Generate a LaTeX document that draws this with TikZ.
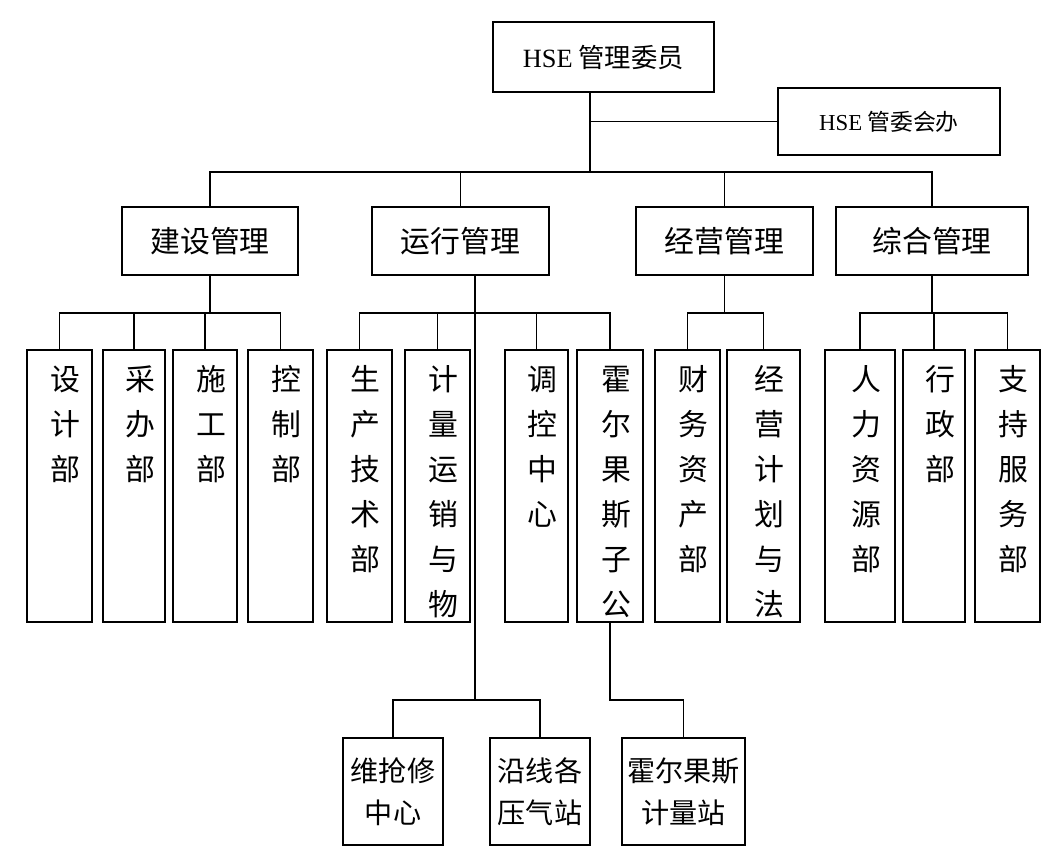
\documentclass[tikz,border=0pt]{standalone}
\usepackage{fontspec}
\setmainfont{Liberation Serif}
\newfontfamily\cjk{Noto Sans CJK SC}
\usetikzlibrary{positioning}

% box from pixel corners: name, x1, y1, x2, y2, text
\newcommand\orgbox[7][]{%
  \pgfmathsetmacro\bw{(#5-#3)*0.02}\pgfmathsetmacro\bh{(#6-#4)*0.02}%
  \node[box, minimum width=\bw cm, minimum height=\bh cm, #1] (#2) at ({(#3+#5)/2},{(#4+#6)/2}) {#7};}
% tall department box with vertical text
\newcommand\colbox[4]{%
  \orgbox{#1}{#2}{350}{#3}{622}{}%
  \node[vtext, below=0.3cm of #1.north, xshift=0.12cm] (#1t) {#4};}

\begin{document}
\begin{tikzpicture}[x=0.02cm, y=-0.02cm,
    box/.style={draw, line width=1.1pt, inner sep=0pt, outer sep=0pt, align=center,
      font=\cjk\fontsize{17}{20}\selectfont},
    lowbox/.style={font=\cjk\fontsize{16}{24}\selectfont},
    vtext/.style={inner sep=0pt, align=center, font=\cjk\fontsize{17}{25.6}\selectfont},
    every path/.style={line width=1pt}
  ]
  \useasboundingbox (0,0) rectangle (1048,855);

  \orgbox[font=\cjk\fontsize{15}{18}\selectfont]{hse}{493}{22}{714}{92}{{\rmfamily HSE} 管理委员}
  \orgbox[font=\cjk\fontsize{13}{16}\selectfont]{ban}{778}{88}{1000}{155}{{\rmfamily HSE} 管委会办}

  \orgbox{jianshe}{122}{207}{298}{275}{建设管理}
  \orgbox{yunxing}{372}{207}{549}{275}{运行管理}
  \orgbox{jingying}{636}{207}{813}{275}{经营管理}
  \orgbox{zonghe}{836}{207}{1028}{275}{综合管理}

  \colbox{sheji}{27}{92}{设\\计\\部}
  \colbox{caiban}{103}{165}{采\\办\\部}
  \colbox{shigong}{173}{237}{施\\工\\部}
  \colbox{kongzhi}{248}{313}{控\\制\\部}
  \colbox{shengchan}{327}{392}{生\\产\\技\\术\\部}
  \colbox{jiliang}{405}{470}{计\\量\\运\\销\\与\\物}
  \colbox{tiaokong}{505}{568}{调\\控\\中\\心}
  \colbox{huoerzi}{577}{643}{霍\\尔\\果\\斯\\子\\公}
  \colbox{caiwu}{655}{720}{财\\务\\资\\产\\部}
  \colbox{jihua}{727}{800}{经\\营\\计\\划\\与\\法}
  \colbox{renli}{825}{895}{人\\力\\资\\源\\部}
  \colbox{xingzheng}{903}{965}{行\\政\\部}
  \colbox{zhichi}{975}{1040}{支\\持\\服\\务\\部}

  \orgbox[lowbox]{weiqiang}{343}{738}{443}{845}{维抢修\\中心}
  \orgbox[lowbox]{yanxian}{490}{738}{590}{845}{沿线各\\压气站}
  \orgbox[lowbox]{jiliangzhan}{622}{738}{745}{845}{霍尔果斯\\计量站}

  % top level
  \coordinate (trunk) at (590,172);
  \draw (hse.south -| trunk) -- (trunk);
  \draw (trunk |- ban.west) -- (ban.west);
  \draw (jianshe.north) -- (jianshe.north |- trunk) -| (zonghe.north);
  \draw (yunxing.north) -- (yunxing.north |- trunk);
  \draw (jingying.north) -- (jingying.north |- trunk);

  % departments
  \coordinate (deptbus) at (0,313);
  \draw (jianshe.south) -- (jianshe.south |- deptbus);
  \draw (sheji.north) -- (sheji.north |- deptbus) -| (kongzhi.north);
  \draw (caiban.north) -- (caiban.north |- deptbus);
  \draw (shigong.north) -- (shigong.north |- deptbus);
  \draw (shengchan.north) -- (shengchan.north |- deptbus) -| (huoerzi.north);
  \draw (jiliang.north) -- (jiliang.north |- deptbus);
  \draw (tiaokong.north) -- (tiaokong.north |- deptbus);
  \draw (jingying.south) -- (jingying.south |- deptbus);
  \draw (caiwu.north) -- (caiwu.north |- deptbus) -| (jihua.north);
  \draw (zonghe.south) -- (zonghe.south |- deptbus);
  \draw (renli.north) -- (renli.north |- deptbus) -| (zhichi.north);
  \draw (xingzheng.north) -- (xingzheng.north |- deptbus);

  % stations
  \coordinate (yfoot) at (475,700);
  \draw (yunxing.south -| yfoot) -- (yfoot);
  \draw (weiqiang.north) -- (weiqiang.north |- yfoot) -| (yanxian.north);
  \draw (huoerzi.south) -- (huoerzi.south |- yfoot) -| (jiliangzhan.north);
\end{tikzpicture}
\end{document}
